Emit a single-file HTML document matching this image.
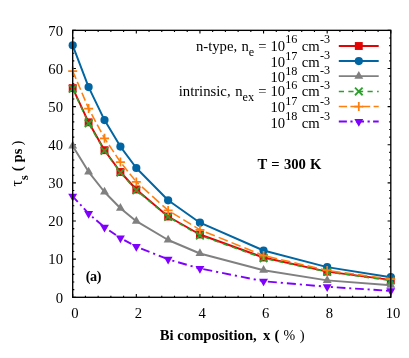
<!DOCTYPE html>
<html><head><meta charset="utf-8"><title>plot</title>
<style>
html,body{margin:0;padding:0;background:#fff;}
svg{display:block;}
text{font-family:"Liberation Serif","DejaVu Serif",serif;font-size:14.67px;fill:#000;}
.b{font-weight:bold;}
.sup{font-size:12.2px;}
</style></head><body>
<svg width="409" height="358" viewBox="0 0 409 358">
<rect width="409" height="358" fill="#fff"/>

<path d="M72.70 297.3v-3.2M72.70 30.35v3.2M85.42 297.3v-1.6M85.42 30.35v1.6M98.15 297.3v-1.6M98.15 30.35v1.6M110.87 297.3v-1.6M110.87 30.35v1.6M123.60 297.3v-1.6M123.60 30.35v1.6M136.32 297.3v-3.2M136.32 30.35v3.2M149.04 297.3v-1.6M149.04 30.35v1.6M161.77 297.3v-1.6M161.77 30.35v1.6M174.49 297.3v-1.6M174.49 30.35v1.6M187.22 297.3v-1.6M187.22 30.35v1.6M199.94 297.3v-3.2M199.94 30.35v3.2M212.66 297.3v-1.6M212.66 30.35v1.6M225.39 297.3v-1.6M225.39 30.35v1.6M238.11 297.3v-1.6M238.11 30.35v1.6M250.84 297.3v-1.6M250.84 30.35v1.6M263.56 297.3v-3.2M263.56 30.35v3.2M276.28 297.3v-1.6M276.28 30.35v1.6M289.01 297.3v-1.6M289.01 30.35v1.6M301.73 297.3v-1.6M301.73 30.35v1.6M314.46 297.3v-1.6M314.46 30.35v1.6M327.18 297.3v-3.2M327.18 30.35v3.2M339.90 297.3v-1.6M339.90 30.35v1.6M352.63 297.3v-1.6M352.63 30.35v1.6M365.35 297.3v-1.6M365.35 30.35v1.6M378.08 297.3v-1.6M378.08 30.35v1.6M390.80 297.3v-3.2M390.80 30.35v3.2M72.7 297.30h3.2M390.8 297.30h-3.2M72.7 289.67h1.6M390.8 289.67h-1.6M72.7 282.05h1.6M390.8 282.05h-1.6M72.7 274.42h1.6M390.8 274.42h-1.6M72.7 266.79h1.6M390.8 266.79h-1.6M72.7 259.16h3.2M390.8 259.16h-3.2M72.7 251.54h1.6M390.8 251.54h-1.6M72.7 243.91h1.6M390.8 243.91h-1.6M72.7 236.28h1.6M390.8 236.28h-1.6M72.7 228.66h1.6M390.8 228.66h-1.6M72.7 221.03h3.2M390.8 221.03h-3.2M72.7 213.40h1.6M390.8 213.40h-1.6M72.7 205.77h1.6M390.8 205.77h-1.6M72.7 198.15h1.6M390.8 198.15h-1.6M72.7 190.52h1.6M390.8 190.52h-1.6M72.7 182.89h3.2M390.8 182.89h-3.2M72.7 175.27h1.6M390.8 175.27h-1.6M72.7 167.64h1.6M390.8 167.64h-1.6M72.7 160.01h1.6M390.8 160.01h-1.6M72.7 152.38h1.6M390.8 152.38h-1.6M72.7 144.76h3.2M390.8 144.76h-3.2M72.7 137.13h1.6M390.8 137.13h-1.6M72.7 129.50h1.6M390.8 129.50h-1.6M72.7 121.88h1.6M390.8 121.88h-1.6M72.7 114.25h1.6M390.8 114.25h-1.6M72.7 106.62h3.2M390.8 106.62h-3.2M72.7 98.99h1.6M390.8 98.99h-1.6M72.7 91.37h1.6M390.8 91.37h-1.6M72.7 83.74h1.6M390.8 83.74h-1.6M72.7 76.11h1.6M390.8 76.11h-1.6M72.7 68.49h3.2M390.8 68.49h-3.2M72.7 60.86h1.6M390.8 60.86h-1.6M72.7 53.23h1.6M390.8 53.23h-1.6M72.7 45.60h1.6M390.8 45.60h-1.6M72.7 37.98h1.6M390.8 37.98h-1.6M72.7 30.35h3.2M390.8 30.35h-3.2" stroke="#000" stroke-width="1.1" fill="none"/>
<g>
<path d="M338.8 46.0H378.7" stroke="#e20404" stroke-width="1.95" fill="none"/>
<rect x="354.85" y="42.05" width="7.9" height="7.9" fill="#e20404"/>
<polyline points="72.70,88.10 88.61,122.30 104.51,150.20 120.42,172.00 136.32,189.50 168.13,216.50 199.94,234.50 263.56,257.50 327.18,271.60 390.80,279.90" fill="none" stroke="#e20404" stroke-width="1.95" stroke-linejoin="round"/>
<rect x="68.75" y="84.15" width="7.9" height="7.9" fill="#e20404"/>
<rect x="84.66" y="118.35" width="7.9" height="7.9" fill="#e20404"/>
<rect x="100.56" y="146.25" width="7.9" height="7.9" fill="#e20404"/>
<rect x="116.47" y="168.05" width="7.9" height="7.9" fill="#e20404"/>
<rect x="132.37" y="185.55" width="7.9" height="7.9" fill="#e20404"/>
<rect x="164.18" y="212.55" width="7.9" height="7.9" fill="#e20404"/>
<rect x="195.99" y="230.55" width="7.9" height="7.9" fill="#e20404"/>
<rect x="259.61" y="253.55" width="7.9" height="7.9" fill="#e20404"/>
<rect x="323.23" y="267.65" width="7.9" height="7.9" fill="#e20404"/>
<rect x="386.85" y="275.95" width="7.9" height="7.9" fill="#e20404"/>
</g>
<g>
<path d="M338.8 61.05H378.7" stroke="#0065a2" stroke-width="1.95" fill="none"/>
<circle cx="358.80" cy="61.05" r="4.1" fill="#0065a2"/>
<polyline points="72.70,45.30 88.61,87.10 104.51,120.10 120.42,146.60 136.32,168.00 168.13,200.30 199.94,222.70 263.56,250.50 327.18,267.10 390.80,277.20" fill="none" stroke="#0065a2" stroke-width="1.95" stroke-linejoin="round"/>
<circle cx="72.70" cy="45.30" r="4.1" fill="#0065a2"/>
<circle cx="88.61" cy="87.10" r="4.1" fill="#0065a2"/>
<circle cx="104.51" cy="120.10" r="4.1" fill="#0065a2"/>
<circle cx="120.42" cy="146.60" r="4.1" fill="#0065a2"/>
<circle cx="136.32" cy="168.00" r="4.1" fill="#0065a2"/>
<circle cx="168.13" cy="200.30" r="4.1" fill="#0065a2"/>
<circle cx="199.94" cy="222.70" r="4.1" fill="#0065a2"/>
<circle cx="263.56" cy="250.50" r="4.1" fill="#0065a2"/>
<circle cx="327.18" cy="267.10" r="4.1" fill="#0065a2"/>
<circle cx="390.80" cy="277.20" r="4.1" fill="#0065a2"/>
</g>
<g>
<path d="M338.8 76.1H378.7" stroke="#808080" stroke-width="1.95" fill="none"/>
<path d="M358.80 70.95L363.25 78.65L354.35 78.65Z" fill="#808080"/>
<polyline points="72.70,146.00 88.61,171.85 104.51,192.00 120.42,208.20 136.32,221.20 168.13,240.00 199.94,253.50 263.56,270.20 327.18,280.40 390.80,285.30" fill="none" stroke="#808080" stroke-width="1.95" stroke-linejoin="round"/>
<path d="M72.70 140.85L77.15 148.55L68.25 148.55Z" fill="#808080"/>
<path d="M88.61 166.70L93.06 174.40L84.16 174.40Z" fill="#808080"/>
<path d="M104.51 186.85L108.96 194.55L100.06 194.55Z" fill="#808080"/>
<path d="M120.42 203.05L124.87 210.75L115.97 210.75Z" fill="#808080"/>
<path d="M136.32 216.05L140.77 223.75L131.87 223.75Z" fill="#808080"/>
<path d="M168.13 234.85L172.58 242.55L163.68 242.55Z" fill="#808080"/>
<path d="M199.94 248.35L204.39 256.05L195.49 256.05Z" fill="#808080"/>
<path d="M263.56 265.05L268.01 272.75L259.11 272.75Z" fill="#808080"/>
<path d="M327.18 275.25L331.63 282.95L322.73 282.95Z" fill="#808080"/>
<path d="M390.80 280.15L395.25 287.85L386.35 287.85Z" fill="#808080"/>
</g>
<g>
<path d="M338.8 91.45H378.7" stroke="#2ca02c" stroke-width="1.5" fill="none" stroke-dasharray="5.2 4.37"/>
<path d="M355.00 87.65L362.60 95.25M355.00 95.25L362.60 87.65" stroke="#2ca02c" stroke-width="1.8" fill="none"/>
<polyline points="72.70,88.80 88.61,123.40 104.51,150.90 120.42,172.60 136.32,190.30 168.13,216.90 199.94,235.50 263.56,258.20 327.18,271.90 390.80,280.60" fill="none" stroke="#2ca02c" stroke-width="1.5" stroke-dasharray="5.3 4.4"/>
<path d="M68.90 85.00L76.50 92.60M68.90 92.60L76.50 85.00" stroke="#2ca02c" stroke-width="1.8" fill="none"/>
<path d="M84.81 119.60L92.41 127.20M84.81 127.20L92.41 119.60" stroke="#2ca02c" stroke-width="1.8" fill="none"/>
<path d="M100.71 147.10L108.31 154.70M100.71 154.70L108.31 147.10" stroke="#2ca02c" stroke-width="1.8" fill="none"/>
<path d="M116.62 168.80L124.22 176.40M116.62 176.40L124.22 168.80" stroke="#2ca02c" stroke-width="1.8" fill="none"/>
<path d="M132.52 186.50L140.12 194.10M132.52 194.10L140.12 186.50" stroke="#2ca02c" stroke-width="1.8" fill="none"/>
<path d="M164.33 213.10L171.93 220.70M164.33 220.70L171.93 213.10" stroke="#2ca02c" stroke-width="1.8" fill="none"/>
<path d="M196.14 231.70L203.74 239.30M196.14 239.30L203.74 231.70" stroke="#2ca02c" stroke-width="1.8" fill="none"/>
<path d="M259.76 254.40L267.36 262.00M259.76 262.00L267.36 254.40" stroke="#2ca02c" stroke-width="1.8" fill="none"/>
<path d="M323.38 268.10L330.98 275.70M323.38 275.70L330.98 268.10" stroke="#2ca02c" stroke-width="1.8" fill="none"/>
<path d="M387.00 276.80L394.60 284.40M387.00 284.40L394.60 276.80" stroke="#2ca02c" stroke-width="1.8" fill="none"/>
</g>
<g>
<path d="M338.8 106.5H378.7" stroke="#ff7f0e" stroke-width="1.55" fill="none" stroke-dasharray="8.2 3.4"/>
<path d="M354.30 106.50L363.30 106.50M358.80 102.00L358.80 111.00" stroke="#ff7f0e" stroke-width="1.75" fill="none"/>
<polyline points="72.70,71.00 88.61,108.60 104.51,138.30 120.42,162.00 136.32,181.90" fill="none" stroke="#ff7f0e" stroke-width="1.55" stroke-dasharray="8.6 3.2"/>
<path d="M136.32 181.90L168.13 210.40" fill="none" stroke="#ff7f0e" stroke-width="1.55" stroke-dasharray="9.66 4.14" stroke-dashoffset="-7.50"/>
<path d="M168.13 210.40L199.94 229.80" fill="none" stroke="#ff7f0e" stroke-width="1.55" stroke-dasharray="9.10 3.90" stroke-dashoffset="-4.80"/>
<path d="M199.94 229.80L263.56 255.60" fill="none" stroke="#ff7f0e" stroke-width="1.55" stroke-dasharray="9.73 4.17" stroke-dashoffset="-6.30"/>
<path d="M263.56 255.60L327.18 270.40" fill="none" stroke="#ff7f0e" stroke-width="1.55" stroke-dasharray="9.52 4.08" stroke-dashoffset="-4.40"/>
<path d="M327.18 270.40L390.80 279.10" fill="none" stroke="#ff7f0e" stroke-width="1.55" stroke-dasharray="9.52 4.08" stroke-dashoffset="-3.90"/>
<path d="M68.20 71.00L77.20 71.00M72.70 66.50L72.70 75.50" stroke="#ff7f0e" stroke-width="1.75" fill="none"/>
<path d="M84.11 108.60L93.11 108.60M88.61 104.10L88.61 113.10" stroke="#ff7f0e" stroke-width="1.75" fill="none"/>
<path d="M100.01 138.30L109.01 138.30M104.51 133.80L104.51 142.80" stroke="#ff7f0e" stroke-width="1.75" fill="none"/>
<path d="M115.92 162.00L124.92 162.00M120.42 157.50L120.42 166.50" stroke="#ff7f0e" stroke-width="1.75" fill="none"/>
<path d="M131.82 181.90L140.82 181.90M136.32 177.40L136.32 186.40" stroke="#ff7f0e" stroke-width="1.75" fill="none"/>
<path d="M163.63 210.40L172.63 210.40M168.13 205.90L168.13 214.90" stroke="#ff7f0e" stroke-width="1.75" fill="none"/>
<path d="M195.44 229.80L204.44 229.80M199.94 225.30L199.94 234.30" stroke="#ff7f0e" stroke-width="1.75" fill="none"/>
<path d="M259.06 255.60L268.06 255.60M263.56 251.10L263.56 260.10" stroke="#ff7f0e" stroke-width="1.75" fill="none"/>
<path d="M322.68 270.40L331.68 270.40M327.18 265.90L327.18 274.90" stroke="#ff7f0e" stroke-width="1.75" fill="none"/>
<path d="M386.30 279.10L395.30 279.10M390.80 274.60L390.80 283.60" stroke="#ff7f0e" stroke-width="1.75" fill="none"/>
</g>
<g>
<path d="M338.8 121.55H378.7" stroke="#7f00ff" stroke-width="1.9" fill="none" stroke-dasharray="8.1 3.5 2.2 3.35"/>
<path d="M358.80 126.70L363.25 119.00L354.35 119.00Z" fill="#7f00ff"/>
<path d="M72.70 196.30L88.61 213.60" fill="none" stroke="#7f00ff" stroke-width="1.9" stroke-dasharray="8.09 3.56 1.94 3.56" stroke-dashoffset="0.60"/>
<path d="M88.61 213.60L104.51 227.30" fill="none" stroke="#7f00ff" stroke-width="1.9" stroke-dasharray="8.09 3.56 1.94 3.56" stroke-dashoffset="-10.20"/>
<path d="M104.51 227.30L120.42 238.00" fill="none" stroke="#7f00ff" stroke-width="1.9" stroke-dasharray="8.09 3.56 1.94 3.56" stroke-dashoffset="-5.70"/>
<path d="M120.42 238.00L136.32 246.60" fill="none" stroke="#7f00ff" stroke-width="1.9" stroke-dasharray="8.09 3.56 1.94 3.56" stroke-dashoffset="-4.30"/>
<path d="M136.32 246.60L168.13 259.40" fill="none" stroke="#7f00ff" stroke-width="1.9" stroke-dasharray="8.97 3.94 2.15 3.94" stroke-dashoffset="-5.20"/>
<path d="M168.13 259.40L199.94 268.50" fill="none" stroke="#7f00ff" stroke-width="1.9" stroke-dasharray="8.97 3.94 2.15 3.94" stroke-dashoffset="-10.40"/>
<path d="M199.94 268.50L263.56 281.20" fill="none" stroke="#7f00ff" stroke-width="1.9" stroke-dasharray="9.06 3.98 2.17 3.98" stroke-dashoffset="-3.40"/>
<path d="M263.56 281.20L327.18 286.80" fill="none" stroke="#7f00ff" stroke-width="1.9" stroke-dasharray="9.02 3.96 2.16 3.96" stroke-dashoffset="-4.30"/>
<path d="M327.18 286.80L390.80 290.90" fill="none" stroke="#7f00ff" stroke-width="1.9" stroke-dasharray="8.68 3.82 2.08 3.82" stroke-dashoffset="-9.60"/>
<path d="M72.70 201.45L77.15 193.75L68.25 193.75Z" fill="#7f00ff"/>
<path d="M88.61 218.75L93.06 211.05L84.16 211.05Z" fill="#7f00ff"/>
<path d="M104.51 232.45L108.96 224.75L100.06 224.75Z" fill="#7f00ff"/>
<path d="M120.42 243.15L124.87 235.45L115.97 235.45Z" fill="#7f00ff"/>
<path d="M136.32 251.75L140.77 244.05L131.87 244.05Z" fill="#7f00ff"/>
<path d="M168.13 264.55L172.58 256.85L163.68 256.85Z" fill="#7f00ff"/>
<path d="M199.94 273.65L204.39 265.95L195.49 265.95Z" fill="#7f00ff"/>
<path d="M263.56 286.35L268.01 278.65L259.11 278.65Z" fill="#7f00ff"/>
<path d="M327.18 291.95L331.63 284.25L322.73 284.25Z" fill="#7f00ff"/>
<path d="M390.80 296.05L395.25 288.35L386.35 288.35Z" fill="#7f00ff"/>
</g>
<rect x="72.7" y="30.35" width="318.10" height="266.95" fill="none" stroke="#000" stroke-width="1.35"/>
<text x="74.90" y="317.6" text-anchor="middle">0</text>
<text x="138.52" y="317.6" text-anchor="middle">2</text>
<text x="202.14" y="317.6" text-anchor="middle">4</text>
<text x="265.76" y="317.6" text-anchor="middle">6</text>
<text x="329.38" y="317.6" text-anchor="middle">8</text>
<text x="393.00" y="317.6" text-anchor="middle">10</text>
<text x="63" y="302.50" text-anchor="end">0</text>
<text x="63" y="264.36" text-anchor="end">10</text>
<text x="63" y="226.23" text-anchor="end">20</text>
<text x="63" y="188.09" text-anchor="end">30</text>
<text x="63" y="149.96" text-anchor="end">40</text>
<text x="63" y="111.82" text-anchor="end">50</text>
<text x="63" y="73.69" text-anchor="end">60</text>
<text x="63" y="35.55" text-anchor="end">70</text>
<text class="b" x="159.8" y="340.3">Bi composition,</text>
<text class="b" x="263.1" y="340.3">x</text>
<text class="b" x="274.4" y="340.3">(</text>
<text x="283.6" y="340.3" style="font-size:14px">%</text>
<text x="299.7" y="340.3">)</text>
<g transform="translate(22.4 163.6) rotate(-90)">
<text x="-22.9" y="0" style="font-size:16px">τ</text>
<text class="b sup" x="-16.3" y="5.2">s</text>
<text class="b" x="-7.7" y="0">(</text>
<text class="b" x="1.2" y="0">ps</text>
<text x="18.2" y="0">)</text>
</g>
<text class="b" x="257.6" y="168.6" style="word-spacing:0.55px">T = 300 K</text>
<text class="b" x="85.7" y="280.9" style="font-size:14.2px;letter-spacing:-0.35px">(a)</text>
<text x="195.9" y="50.6" textLength="41.2" lengthAdjust="spacingAndGlyphs">n-type,</text>
<text x="241.5" y="50.6">n</text>
<text class="sup" x="248.7" y="55.6">e</text>
<text x="258.2" y="50.6">=</text>
<text x="270.4" y="50.6">10</text>
<text class="sup" x="285.2" y="43.4">16</text>
<text x="301.7" y="50.6">cm</text>
<text class="sup" x="319.9" y="42.9">-3</text>
<text x="270.4" y="66.85">10</text>
<text class="sup" x="285.2" y="59.64999999999999">17</text>
<text x="301.7" y="66.85">cm</text>
<text class="sup" x="319.9" y="59.14999999999999">-3</text>
<text x="270.4" y="82.05">10</text>
<text class="sup" x="285.2" y="74.85">18</text>
<text x="301.7" y="82.05">cm</text>
<text class="sup" x="319.9" y="74.35">-3</text>
<text x="178.7" y="96.2" textLength="51.9" lengthAdjust="spacingAndGlyphs">intrinsic,</text>
<text x="235.2" y="96.2">n</text>
<text class="sup" x="242.5" y="101.2">ex</text>
<text x="258.2" y="96.2">=</text>
<text x="270.4" y="96.2">10</text>
<text class="sup" x="285.2" y="89.0">16</text>
<text x="301.7" y="96.2">cm</text>
<text class="sup" x="319.9" y="88.5">-3</text>
<text x="270.4" y="112.4">10</text>
<text class="sup" x="285.2" y="105.2">17</text>
<text x="301.7" y="112.4">cm</text>
<text class="sup" x="319.9" y="104.7">-3</text>
<text x="270.4" y="127.55">10</text>
<text class="sup" x="285.2" y="120.35">18</text>
<text x="301.7" y="127.55">cm</text>
<text class="sup" x="319.9" y="119.85">-3</text>
</svg></body></html>
